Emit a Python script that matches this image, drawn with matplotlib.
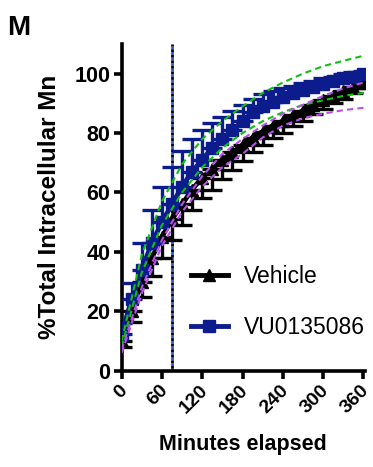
import matplotlib.pyplot as plt
import matplotlib.transforms as mtransforms
import numpy as np

plt.rcParams["font.family"] = ["Liberation Sans", "DejaVu Sans"]

# time points (minutes)
minutes = np.arange(0, 361, 15)

vehicle_mean = [10, 20, 30, 38, 45, 51, 56, 61, 65, 68, 71, 73.5, 76, 78.5, 80.5,
                82.5, 84, 86, 87.5, 89.5, 91, 92.5, 94, 95.5, 97]
vehicle_sem = [2, 3.5, 5, 6, 7, 7, 7, 7, 7, 7, 6.5, 6, 5.5, 5, 4.5,
               4, 4, 3.5, 3.5, 3, 3, 2.5, 2.5, 2, 2]

vu_mean = [12.5, 24, 34, 43, 50, 56, 62, 67, 71, 75, 78, 81, 84, 87, 89,
           90.5, 92, 93.5, 94.5, 95.5, 96.5, 97.5, 98.5, 99, 100]
vu_sem = [3.5, 5.5, 9, 11, 12, 12.5, 12, 11, 10, 8.5, 7.5, 6.5, 5.5, 4.5, 4,
          3.5, 3, 2.5, 2.5, 2, 2, 1.5, 1.5, 1.5, 1]

# confidence bands read every 30 min
band_minutes = np.arange(0, 361, 30)
vu_band_hi = [10, 39, 57, 69.5, 78, 84, 89, 93.5, 97, 100, 102.5, 104.3, 106]
vu_band_lo = [8, 33, 49, 60, 68.5, 75, 80, 84, 87, 89.5, 91, 92.5, 93.5]
veh_band_hi = [7, 28, 44, 56, 65.5, 73, 78, 82.5, 86.5, 89.5, 92.5, 95, 97]
veh_band_lo = [6, 26, 42, 53.5, 62, 68.5, 73, 78.5, 82.5, 85, 86.5, 87.7, 88.5]

treatment_time = 75

black = "#000000"
navy = "#0c1c8c"
green = "#10c010"
purple = "#b850e8"

fig = plt.figure(figsize=(3.73, 4.67), dpi=100)
ax = fig.add_axes([0.326, 0.206, 0.652, 0.700])

# vertical marker line
ax.axvline(treatment_time, color="#2a5ad8", linestyle=(0, (1, 1)), linewidth=2, zorder=1)
ax.axvline(treatment_time, color=black, linestyle=(1, (1, 1)), linewidth=2, zorder=1)

ax.errorbar(minutes, vehicle_mean, yerr=[vehicle_sem, np.zeros(len(vehicle_sem))],
            fmt="none", ecolor=black, elinewidth=2.4, capsize=7, capthick=2.4, zorder=2)
ax.plot(minutes, vehicle_mean, color=black, linewidth=3.5, marker="^", markersize=9,
        label="Vehicle", zorder=3)

ax.errorbar(minutes, vu_mean, yerr=[np.zeros(len(vu_sem)), vu_sem],
            fmt="none", ecolor=navy, elinewidth=2.4, capsize=7, capthick=2.4, zorder=4)
ax.plot(minutes, vu_mean, color=navy, linewidth=3.5, marker="s", markersize=8,
        label="VU0135086", zorder=5)

for band, col in [(vu_band_hi, green), (vu_band_lo, green),
                  (veh_band_hi, purple), (veh_band_lo, purple)]:
    ax.plot(band_minutes, band, color=col, linestyle=(0, (3, 2)), linewidth=1.5, zorder=6)

ax.set_xlim(0, 362)
ax.set_ylim(0, 110)
ax.set_xticks(range(0, 361, 60))
ax.set_yticks(range(0, 101, 20))
ax.spines["top"].set_visible(False)
ax.spines["right"].set_visible(False)
for s in ["left", "bottom"]:
    ax.spines[s].set_linewidth(2.6)
ax.tick_params(width=2.6, length=6, labelsize=15.5, pad=2)
for lab in ax.get_xticklabels() + ax.get_yticklabels():
    lab.set_fontweight("bold")
shift = mtransforms.ScaledTranslation(-3 / 100, 0, fig.dpi_scale_trans)
for lab in ax.get_xticklabels():
    lab.set_rotation(45)
    lab.set_ha("right")
    lab.set_va("top")
    lab.set_rotation_mode("anchor")
    lab.set_fontsize(14)
    lab.set_transform(lab.get_transform() + shift)

ax.set_xlabel("Minutes elapsed", fontsize=15.5, fontweight="bold", labelpad=12)
ax.set_ylabel("%Total Intracellular Mn", fontsize=17.5, labelpad=10)
ax.yaxis.label.set_fontweight("bold")

ax.legend(loc="lower left", bbox_to_anchor=(0.2, 0.035), frameon=False, fontsize=16.5,
          handlelength=1.6, labelspacing=1.2, handletextpad=0.7)

fig.text(0.02, 0.968, "M", fontsize=20, fontweight="bold", va="top", ha="left")

fig.savefig("out.png", dpi=100)
